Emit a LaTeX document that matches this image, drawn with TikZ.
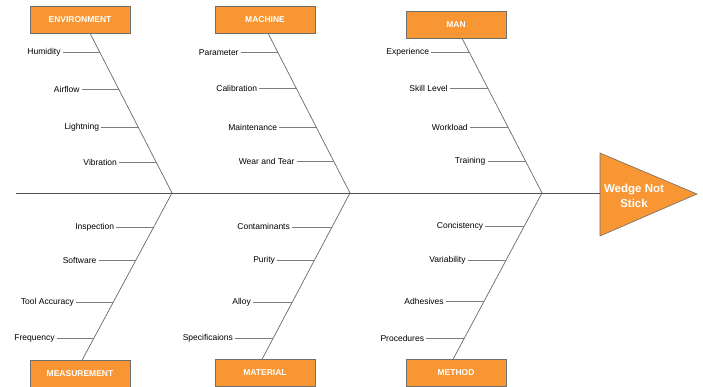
\documentclass[tikz,border=0pt]{standalone}
\usepackage{fontspec}
\setmainfont{Liberation Sans}
\usetikzlibrary{calc,positioning}
\definecolor{fishorange}{RGB}{247,150,51}
\definecolor{boxgray}{RGB}{110,110,110}
\definecolor{spinegray}{RGB}{80,80,80}
\definecolor{bonegray}{RGB}{105,105,105}
\definecolor{twiggray}{RGB}{125,125,125}

\begin{document}
\begin{tikzpicture}[
  x=1pt, y=-1pt,
  font=\fontsize{8.5}{10}\selectfont,
  catbox/.style={draw=boxgray, fill=fishorange, text=white, font=\fontsize{8.5}{10}\selectfont\bfseries,
    minimum width=100pt, minimum height=27pt, inner sep=0pt},
  cause/.style={inner sep=2pt, text=black},
  spine/.style={draw=spinegray, line width=0.9pt},
  bone/.style={draw=bonegray, line width=0.7pt},
  twig/.style={draw=twiggray, line width=0.7pt}
]
\useasboundingbox (0,0) rectangle (703,387);

% category boxes
\node[catbox] (envbox) at (80,19.5) {ENVIRONMENT};
\node[catbox] (machbox) at (265,19.5) {MACHINE};
\node[catbox] (manbox) at (456,24.5) {MAN};
\node[catbox] (measbox) at (80,374) {MEASUREMENT};
\node[catbox] (matbox) at (265,373) {MATERIAL};
\node[catbox] (methbox) at (456,373) {METHOD};

% head and spine
\coordinate (tail) at (16,193);
\coordinate (headbase) at (600,193);
\coordinate (j1) at (172,193);
\coordinate (j2) at (350,193);
\coordinate (j3) at (542,193);
\draw[draw=boxgray, fill=fishorange, line width=0.6pt] (600,153) -- (697,194) -- (600,236) -- cycle;
\node[text=white, align=center, font=\fontsize{11.5}{15}\selectfont\bfseries] (effect) at (634,196) {Wedge Not\\Stick};
\draw[spine] (tail) -- (headbase);

% bones
\draw[bone] ([xshift=10pt]envbox.south) -- (j1);
\draw[bone] ([xshift=3pt]machbox.south) -- (j2);
\draw[bone] ([xshift=6pt]manbox.south) -- (j3);
\draw[bone] (j1) -- ([xshift=2pt]measbox.north);
\draw[bone] (j2) -- ([xshift=-3pt]matbox.north);
\draw[bone] (j3) -- ([xshift=-3pt]methbox.north);

% environment
\coordinate (e1) at ($([xshift=10pt]envbox.south)!0.119!(j1)$);
\coordinate (e2) at ($([xshift=10pt]envbox.south)!0.35!(j1)$);
\coordinate (e3) at ($([xshift=10pt]envbox.south)!0.588!(j1)$);
\coordinate (e4) at ($([xshift=10pt]envbox.south)!0.806!(j1)$);
\node[cause, left=37pt of e1] (humidity) {Humidity};
\node[cause, left=37pt of e2] (airflow) {Airflow};
\node[cause, left=37pt of e3] (lightning) {Lightning};
\node[cause, left=37pt of e4] (vibration) {Vibration};
\draw[twig] (humidity) -- (e1);
\draw[twig] (airflow) -- (e2);
\draw[twig] (lightning) -- (e3);
\draw[twig] (vibration) -- (e4);

% machine
\coordinate (c1) at ($([xshift=3pt]machbox.south)!0.119!(j2)$);
\coordinate (c2) at ($([xshift=3pt]machbox.south)!0.344!(j2)$);
\coordinate (c3) at ($([xshift=3pt]machbox.south)!0.588!(j2)$);
\coordinate (c4) at ($([xshift=3pt]machbox.south)!0.8!(j2)$);
\node[cause, left=37pt of c1] (parameter) {Parameter};
\node[cause, left=37pt of c2] (calibration) {Calibration};
\node[cause, left=37pt of c3] (maintenance) {Maintenance};
\node[cause, left=37pt of c4] (wear) {Wear and Tear};
\draw[twig] (parameter) -- (c1);
\draw[twig] (calibration) -- (c2);
\draw[twig] (maintenance) -- (c3);
\draw[twig] (wear) -- (c4);

% man
\coordinate (m1) at ($([xshift=6pt]manbox.south)!0.09!(j3)$);
\coordinate (m2) at ($([xshift=6pt]manbox.south)!0.323!(j3)$);
\coordinate (m3) at ($([xshift=6pt]manbox.south)!0.574!(j3)$);
\coordinate (m4) at ($([xshift=6pt]manbox.south)!0.794!(j3)$);
\node[cause, left=38pt of m1] (experience) {Experience};
\node[cause, left=38pt of m2] (skill) {Skill Level};
\node[cause, left=38pt of m3] (workload) {Workload};
\node[cause, left=38pt of m4] (training) {Training};
\draw[twig] (experience) -- (m1);
\draw[twig] (skill) -- (m2);
\draw[twig] (workload) -- (m3);
\draw[twig] (training) -- (m4);

% measurement
\coordinate (s1) at ($(j1)!0.208!([xshift=2pt]measbox.north)$);
\coordinate (s2) at ($(j1)!0.405!([xshift=2pt]measbox.north)$);
\coordinate (s3) at ($(j1)!0.655!([xshift=2pt]measbox.north)$);
\coordinate (s4) at ($(j1)!0.869!([xshift=2pt]measbox.north)$);
\node[cause, left=37pt of s1] (inspection) {Inspection};
\node[cause, left=37pt of s2] (software) {Software};
\node[cause, left=37pt of s3] (accuracy) {Tool Accuracy};
\node[cause, left=37pt of s4] (frequency) {Frequency};
\draw[twig] (inspection) -- (s1);
\draw[twig] (software) -- (s2);
\draw[twig] (accuracy) -- (s3);
\draw[twig] (frequency) -- (s4);

% material
\coordinate (t1) at ($(j2)!0.204!([xshift=-3pt]matbox.north)$);
\coordinate (t2) at ($(j2)!0.407!([xshift=-3pt]matbox.north)$);
\coordinate (t3) at ($(j2)!0.659!([xshift=-3pt]matbox.north)$);
\coordinate (t4) at ($(j2)!0.874!([xshift=-3pt]matbox.north)$);
\node[cause, left=40pt of t1] (contaminants) {Contaminants};
\node[cause, left=37pt of t2] (purity) {Purity};
\node[cause, left=39pt of t3] (alloy) {Alloy};
\node[cause, left=38pt of t4] (specs) {Specificaions};
\draw[twig] (contaminants) -- (t1);
\draw[twig] (purity) -- (t2);
\draw[twig] (alloy) -- (t3);
\draw[twig] (specs) -- (t4);

% method
\coordinate (p1) at ($(j3)!0.198!([xshift=-3pt]methbox.north)$);
\coordinate (p2) at ($(j3)!0.407!([xshift=-3pt]methbox.north)$);
\coordinate (p3) at ($(j3)!0.653!([xshift=-3pt]methbox.north)$);
\coordinate (p4) at ($(j3)!0.874!([xshift=-3pt]methbox.north)$);
\node[cause, left=39pt of p1] (consistency) {Concistency};
\node[cause, left=38pt of p2] (variability) {Variability};
\node[cause, left=38pt of p3] (adhesives) {Adhesives};
\node[cause, left=38pt of p4] (procedures) {Procedures};
\draw[twig] (consistency) -- (p1);
\draw[twig] (variability) -- (p2);
\draw[twig] (adhesives) -- (p3);
\draw[twig] (procedures) -- (p4);
\end{tikzpicture}
\end{document}
